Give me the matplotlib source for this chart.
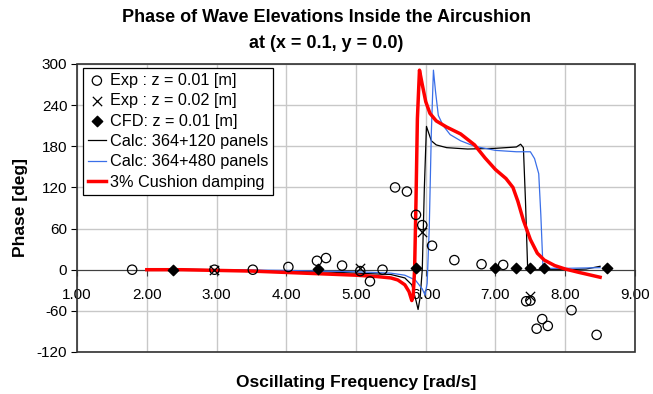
import matplotlib
matplotlib.use("Agg")
import matplotlib.pyplot as plt
from matplotlib.patches import Rectangle

plt.rcParams['font.family'] = ['Liberation Sans', 'DejaVu Sans']

# Experimental data z = 0.01
exp1_x = [1.79, 2.97, 3.52, 4.03, 4.44, 4.57, 4.80, 5.06, 5.20, 5.38, 5.56, 5.73, 5.86,
          5.95, 6.09, 6.41, 6.80, 7.11, 7.44, 7.50, 7.59, 7.67, 7.75, 8.09, 8.45]
exp1_y = [0, 0, 0, 4, 13, 17, 6, -2, -17, 0, 120, 114, 80,
          65, 35, 14, 8, 7, -46, -45, -86, -72, -82, -59, -95]
# Experimental data z = 0.02
exp2_x = [2.97, 5.06, 5.95, 7.50]
exp2_y = [0, 2, 55, -38]
# CFD
cfd_x = [2.38, 4.45, 5.86, 7.00, 7.30, 7.50, 7.70, 8.60]
cfd_y = [0, 1, 2, 2, 2, 2, 2, 3]

# Calc 364+120 panels
c120_x = [2.0, 3.0, 4.0, 4.5, 5.0, 5.5, 5.7, 5.8, 5.86, 5.89, 5.92, 5.95, 5.98, 6.01, 6.04,
          6.08, 6.15, 6.3, 6.6, 7.0, 7.3, 7.36, 7.40, 7.43, 7.46, 7.5, 7.55, 8.0, 8.3, 8.5]
c120_y = [1, 0, -2, -3, -5, -7, -12, -22, -45, -58, -40, 0, 120, 209, 200,
          188, 182, 178, 176, 177, 179, 183, 178, 100, 5, -3, 0, 0, 1, 5]
# Calc 364+480 panels
c480_x = [2.0, 3.0, 4.0, 4.5, 5.0, 5.5, 5.7, 5.85, 5.95, 5.99, 6.02, 6.05, 6.08, 6.11, 6.14,
          6.18, 6.25, 6.35, 6.5, 6.7, 7.0, 7.3, 7.5, 7.56, 7.62, 7.65, 7.68, 7.75, 8.0, 8.5]
c480_y = [1, 0, -1, -2, -3, -5, -8, -15, -28, -37, -20, 60, 200, 291, 260,
          225, 210, 197, 188, 180, 174, 172, 172, 162, 140, 80, 5, 2, 2, 3]
# 3% cushion damping
damp_x = [2.0, 2.5, 3.0, 3.5, 4.0, 4.5, 5.0, 5.3, 5.5, 5.6, 5.7, 5.76, 5.80, 5.82, 5.84,
          5.86, 5.88, 5.91, 5.95, 6.0, 6.06, 6.15, 6.3, 6.5, 6.7, 6.85, 7.0, 7.15, 7.25,
          7.32, 7.4, 7.5, 7.6, 7.7, 7.85, 8.0, 8.2, 8.5]
damp_y = [0, 0, -1, -2, -4, -6, -8, -10, -12, -15, -22, -32, -45, -38, 0,
          100, 220, 291, 270, 245, 228, 217, 208, 198, 182, 163, 146, 133, 120,
          100, 72, 44, 24, 14, 6, 1, -4, -11]

xticks = [1, 2, 3, 4, 5, 6, 7, 8, 9]
yticks = [-120, -60, 0, 60, 120, 180, 240, 300]

fig = plt.figure(figsize=(6.53, 3.94), dpi=100)
ax = fig.add_axes([0.118, 0.1066, 0.8544, 0.731])
ax.set_xlim(1, 9)
ax.set_ylim(-120, 300)

for xv in xticks:
    ax.axvline(xv, color='#c8c8c8', lw=1, zorder=0)
for yv in yticks:
    ax.axhline(yv, color='#c8c8c8', lw=1, zorder=0)

ax.plot(c120_x, c120_y, color='black', lw=0.9, label='Calc: 364+120 panels', zorder=3)
ax.plot(c480_x, c480_y, color='#3a6fe8', lw=0.9, label='Calc: 364+480 panels', zorder=3)
ax.plot(damp_x, damp_y, color='#ff0000', lw=2.5, label='3% Cushion damping', zorder=4)
ax.scatter(exp1_x, exp1_y, s=45, facecolors='none', edgecolors='black', linewidths=0.9,
           label='Exp : z = 0.01 [m]', zorder=5)
ax.scatter(exp2_x, exp2_y, s=45, marker='x', color='black', linewidths=0.9,
           label='Exp : z = 0.02 [m]', zorder=5)
ax.scatter(cfd_x, cfd_y, s=28, marker='D', color='black', label='CFD: z = 0.01 [m]', zorder=6)

for s in ['top', 'right', 'left']:
    ax.spines[s].set_visible(False)
ax.spines['bottom'].set_position(('data', 0))
ax.spines['bottom'].set_color('#404040')
ax.spines['bottom'].set_zorder(2)
ax.add_patch(Rectangle((0, 0), 1, 1, transform=ax.transAxes, fill=False,
                       edgecolor='#303030', lw=1.2, clip_on=False, zorder=7))

ax.set_xticks(xticks)
ax.set_xticklabels([f"{v:.2f}" for v in xticks], fontsize=11)
ax.set_yticks(yticks)
ax.set_yticklabels([str(v) for v in yticks], fontsize=11)
ax.tick_params(axis='x', direction='out', length=4, pad=9, color='#404040')
ax.tick_params(axis='y', direction='out', length=4, pad=3)

ax.set_ylabel('Phase [deg]', fontsize=12.5, fontweight='bold', labelpad=6)
fig.text(0.5 * (0.118 + 0.9724), 1 - 383 / 394, 'Oscillating Frequency [rad/s]', ha='center',
         va='center', fontsize=12.5, fontweight='bold')
fig.text(0.5, 1 - 18 / 394, 'Phase of Wave Elevations Inside the Aircushion',
         ha='center', va='center', fontsize=13, fontweight='bold')
fig.text(0.5, 1 - 44 / 394, 'at (x = 0.1, y = 0.0)',
         ha='center', va='center', fontsize=13, fontweight='bold')

h, l = ax.get_legend_handles_labels()
order = [3, 4, 5, 0, 1, 2]
leg = ax.legend([h[i] for i in order], [l[i] for i in order], loc='upper left',
                bbox_to_anchor=(0.0108, 0.986), fontsize=11.7, frameon=True, fancybox=False,
                edgecolor='black', framealpha=1, borderpad=0.3, labelspacing=0.33,
                handlelength=1.1, handletextpad=0.25, borderaxespad=0)
leg.get_frame().set_linewidth(0.9)
leg.set_zorder(10)

fig.savefig('out.png', dpi=100)
